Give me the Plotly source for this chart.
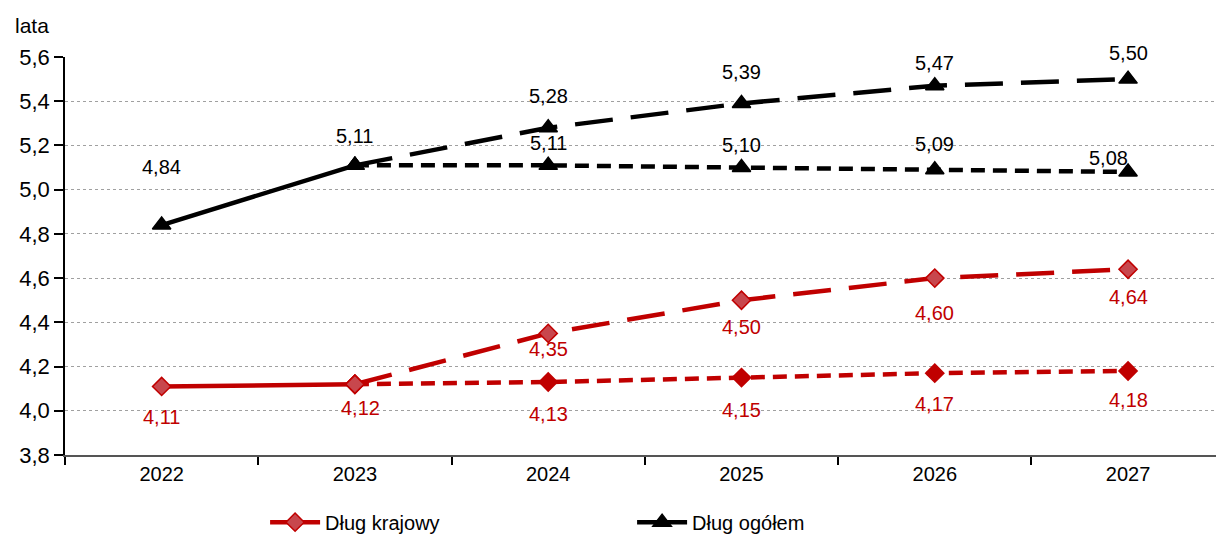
import plotly.graph_objects as go

# Average maturity of debt (years)
years = ["2022", "2023", "2024", "2025", "2026", "2027"]

domestic_actual = [4.11, 4.12]
domestic_high = [4.12, 4.35, 4.50, 4.60, 4.64]
domestic_base = [4.12, 4.13, 4.15, 4.17, 4.18]

total_actual = [4.84, 5.11]
total_high = [5.11, 5.28, 5.39, 5.47, 5.50]
total_base = [5.11, 5.11, 5.10, 5.09, 5.08]

y_ticks = [3.8, 4.0, 4.2, 4.4, 4.6, 4.8, 5.0, 5.2, 5.4, 5.6]

RED = "#c00000"
RED_FILL = "#c8474d"
BLACK = "#000000"
FONT = "Liberation Sans Narrow, Arial Narrow, Liberation Sans, Arial, sans-serif"

fig = go.Figure()

def add_line(x, y, color, dash, symbol, size, fill, name=None, legend=False):
    fig.add_trace(go.Scatter(
        x=x, y=y, mode="lines+markers", name=name, showlegend=legend,
        line=dict(color=color, width=4.5, dash=dash),
        marker=dict(symbol=symbol, size=size, color=fill,
                    line=dict(color=color, width=1.5)),
        hoverinfo="skip",
    ))

# Red: domestic debt
add_line(years[1:], domestic_base, RED, "14px,8px", "diamond", 14, RED)
add_line(years[1:], domestic_high, RED, "38px,18px", "diamond", 14, RED_FILL)
add_line(years[:2], domestic_actual, RED, "solid", "diamond", 14, RED_FILL,
         name="Dług krajowy", legend=True)

# Black: total debt
add_line(years[1:], total_base, BLACK, "14px,8px", "triangle-up", 16, BLACK)
add_line(years[1:], total_high, BLACK, "38px,18px", "triangle-up", 16, BLACK)
add_line(years[:2], total_actual, BLACK, "solid", "triangle-up", 16, BLACK,
         name="Dług ogółem", legend=True)

def fmt(v):
    return f"{v:.2f}".replace(".", ",")

# value labels: (years, values, colour, vertical offsets, horizontal offsets)
label_sets = [
    (years[:2], domestic_actual, RED, [-31, -24], [0, 6]),
    (years[2:], domestic_high[1:], RED, [-16, -27, -35, -28], [0, 0, 0, 0]),
    (years[2:], domestic_base[1:], RED, [-32, -32, -31, -29], [0, 0, 0, 0]),
    (years[:2], total_actual, BLACK, [58, 29], [0, 0]),
    (years[2:], total_high[1:], BLACK, [32, 31, 23, 26], [0, 0, 0, 0]),
    (years[2:], total_base[1:], BLACK, [22, 23, 26, 14], [0, 0, 0, -20]),
]
for xs, vs, col, dys, dxs in label_sets:
    for x, v, dy, dx in zip(xs, vs, dys, dxs):
        fig.add_annotation(
            x=years.index(x), y=v, text=fmt(v), showarrow=False,
            xshift=dx, yshift=dy,
            font=dict(family=FONT, size=20, color=col),
        )

fig.add_annotation(
    xref="paper", yref="paper", x=-0.029, y=1.08, xanchor="center", yanchor="middle",
    text="lata", showarrow=False, font=dict(family=FONT, size=21, color="#000"),
)

fig.update_layout(
    width=1216, height=535,
    margin=dict(l=65, r=0, t=57, b=80),
    paper_bgcolor="white", plot_bgcolor="white",
    separators=", ",
    font=dict(family=FONT, size=20, color="#000"),
    showlegend=True,
    legend=dict(
        orientation="h", xref="container", yref="container",
        x=0.218, y=0.024, xanchor="left", yanchor="middle",
        entrywidth=302, entrywidthmode="pixels", itemwidth=50,
        font=dict(family=FONT, size=20, color="#000"),
        bgcolor="rgba(0,0,0,0)",
    ),
    xaxis=dict(
        type="category", categoryorder="array", categoryarray=years,
        range=[-0.5, 5.455],
        showline=True, linecolor="#555", linewidth=2,
        ticks="outside", ticklen=8, tickcolor="#000", tickwidth=1.5,
        tickson="boundaries", showgrid=False,
        tickfont=dict(family=FONT, size=20, color="#000"),
    ),
    yaxis=dict(
        range=[3.8, 5.6], tickvals=y_ticks, tickformat=".1f",
        showline=True, linecolor="#000", linewidth=1.5,
        ticks="outside", ticklen=9, tickcolor="#000", tickwidth=1.5,
        showgrid=True, gridcolor="#a0a0a0", gridwidth=1, griddash="dot",
        zeroline=False,
        tickfont=dict(family=FONT, size=22, color="#000"),
    ),
)

fig.write_html("out.html")
